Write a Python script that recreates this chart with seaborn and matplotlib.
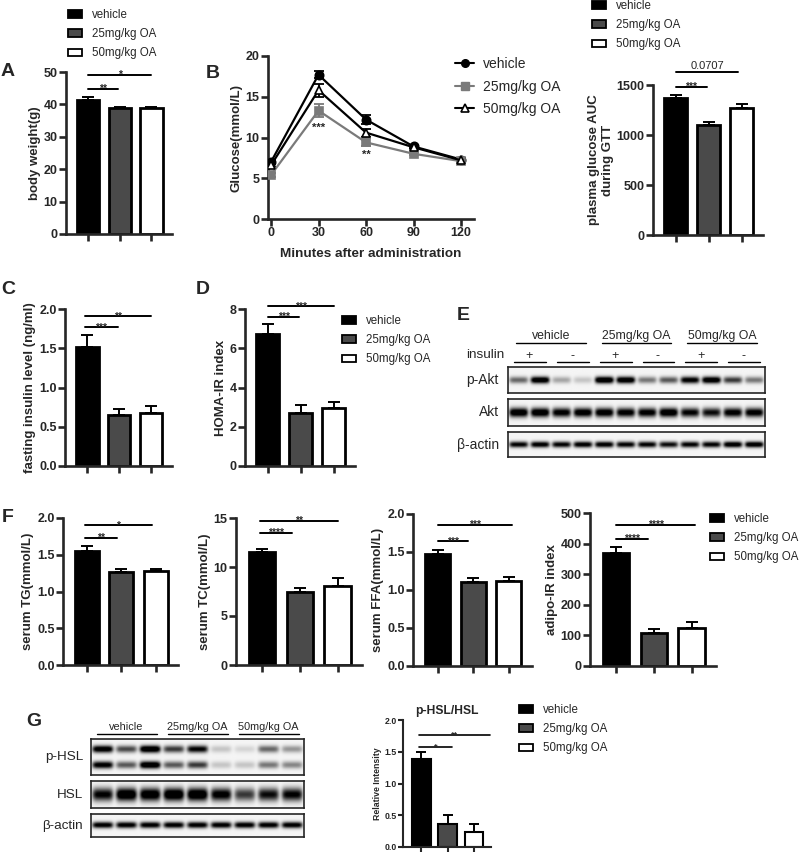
import numpy as np
import pandas as pd
import matplotlib
matplotlib.use('Agg')
import matplotlib.pyplot as plt
import seaborn as sns
from matplotlib.patches import Patch
from matplotlib.lines import Line2D

# ---- data ----
groups = ['vehicle', '25mg/kg OA', '50mg/kg OA']
bar_colors = ['black', '#4a4a4a', 'white']

bw_mean = [41.5, 38.8, 38.8]
bw_sem = [0.8, 0.4, 0.5]

minutes = [0, 30, 60, 90, 120]
gtt_vehicle = [7.0, 17.7, 12.2, 8.9, 7.3]
gtt_vehicle_sem = [0.2, 0.4, 0.5, 0.2, 0.2]
gtt_25 = [5.4, 13.3, 9.4, 8.0, 7.1]
gtt_25_sem = [0.3, 0.8, 0.5, 0.2, 0.2]
gtt_50 = [6.6, 15.8, 10.6, 8.8, 7.2]
gtt_50_sem = [0.2, 0.8, 0.5, 0.2, 0.2]

auc_mean = [1370, 1105, 1275]
auc_sem = [30, 30, 35]

insulin_mean = [1.52, 0.65, 0.68]
insulin_sem = [0.15, 0.08, 0.09]

homa_mean = [6.75, 2.72, 2.98]
homa_sem = [0.5, 0.4, 0.3]

tg_mean = [1.55, 1.26, 1.28]
tg_sem = [0.07, 0.05, 0.02]
tc_mean = [11.5, 7.5, 8.1]
tc_sem = [0.35, 0.4, 0.75]
ffa_mean = [1.47, 1.10, 1.12]
ffa_sem = [0.06, 0.06, 0.05]
adipo_mean = [368, 108, 124]
adipo_sem = [20, 14, 19]
phsl_mean = [1.38, 0.36, 0.24]
phsl_sem = [0.12, 0.14, 0.12]

# western blot band intensities (0 = blank, 1 = saturated)
insulin_signs = ['+', '-', '+', '-', '+', '-']
pakt_bands = [0.45, 0.95, 0.25, 0.15, 1.0, 0.95, 0.4, 0.5, 0.85, 0.95, 0.6, 0.4]
akt_bands = [0.95, 0.95, 0.85, 0.9, 0.9, 0.85, 0.85, 0.95, 0.8, 0.75, 0.85, 0.85]
actin_e_bands = [0.8, 0.85, 0.8, 0.85, 0.85, 0.8, 0.8, 0.75, 0.8, 0.8, 0.9, 0.9]
phsl_upper = [0.9, 0.55, 1.0, 0.6, 0.8, 0.15, 0.1, 0.45, 0.3]
phsl_lower = [0.85, 0.5, 1.0, 0.5, 0.6, 0.15, 0.15, 0.4, 0.35]
hsl_bands = [0.8, 1.0, 0.95, 1.0, 1.0, 0.85, 0.6, 0.75, 0.8]
actin_g_bands = [0.85, 0.85, 0.85, 0.85, 0.85, 0.85, 0.85, 0.85, 0.85]

# ---- style ----
sns.set_style('ticks')
plt.rcParams['font.family'] = ['Liberation Sans', 'DejaVu Sans']
plt.rcParams['font.weight'] = 'bold'
plt.rcParams['axes.labelweight'] = 'bold'

W, H = 800, 856
fig = plt.figure(figsize=(W / 100, H / 100), dpi=100)


def fx(x):
    return x / W


def fy(y):
    return 1 - y / H


def px_axes(left, top, right, bottom):
    return fig.add_axes([fx(left), fy(bottom), (right - left) / W, (bottom - top) / H])


def bar_panel(rect, means, sems, ymax, ystep, ylabel, brackets, dec=0, small=False):
    ax = px_axes(*rect)
    df = pd.DataFrame({'group': groups, 'value': means})
    lw = 1.5 if small else 2.0
    sns.barplot(data=df, x='group', y='value', hue='group',
                palette=dict(zip(groups, bar_colors)), width=0.7,
                edgecolor='black', linewidth=lw, legend=False, ax=ax)
    ax.errorbar(range(3), means, yerr=[np.zeros(3), sems], fmt='none',
                ecolor='black', elinewidth=1.4, capsize=3.5 if small else 4.5,
                capthick=1.4, zorder=3)
    ax.set_xlim(-0.7, 2.65)
    ax.set_ylim(0, ymax)
    ticks = np.arange(0, ymax + ystep / 2, ystep)
    ax.set_yticks(ticks)
    ax.set_yticklabels([f'{t:.{dec}f}' for t in ticks])
    ax.set_xticks(range(3))
    ax.set_xticklabels([])
    ax.set_xlabel('')
    sns.despine(ax=ax)
    sw = 1.5 if small else 1.9
    for s in ['left', 'bottom']:
        ax.spines[s].set_linewidth(sw)
    ax.tick_params(direction='out', length=3.5 if small else 5, width=sw,
                   labelsize=6.3 if small else 9, pad=1)
    ax.set_ylabel(ylabel, fontsize=6.3 if small else 9.5, labelpad=2)
    for x1, x2, y, txt in brackets:
        ax.plot([x1, x2], [y, y], color='black', lw=1.2 if small else 1.4, clip_on=False)
        if txt.startswith('*'):
            ax.annotate(txt, xy=((x1 + x2) / 2, y), xytext=(0, -1.6 if small else -2.4),
                        textcoords='offset points', ha='center', va='baseline',
                        fontsize=6.5 if small else 7.5, annotation_clip=False)
        else:
            ax.annotate(txt, xy=((x1 + x2) / 2, y), xytext=(0, 1),
                        textcoords='offset points', ha='center', va='bottom',
                        fontsize=8, fontweight='normal', annotation_clip=False)
    return ax


def bar_legend(x, y, fs=8.3):
    handles = [Patch(facecolor=c, edgecolor='black', linewidth=1.3) for c in bar_colors]
    fig.legend(handles, groups, loc='upper left', bbox_to_anchor=(fx(x), fy(y)),
               frameon=False, prop={'size': fs, 'weight': 'normal'},
               handlelength=1.2, handleheight=0.6, handletextpad=0.9,
               labelspacing=0.62, borderpad=0, borderaxespad=0)


def draw_blot(rect, rows):
    # rows: (band centre as axes fraction, intensities per lane, band half-height)
    ax = px_axes(*rect)
    n = len(rows[0][1])
    nx, ny = n * 40, 80
    xs = (np.arange(nx) + 0.5) / 40
    ys = (np.arange(ny) + 0.5) / ny
    dens = np.zeros((ny, nx))
    for yb, vals, sig in rows:
        for i, v in enumerate(vals):
            prof_x = np.exp(-((xs - (i + 0.5)) / 0.44) ** 6)
            prof_y = np.exp(-((ys - yb) / sig) ** 2)
            dens += v * np.outer(prof_y, prof_x)
    img = 1 - np.clip(dens * 1.25 + 0.04, 0, 1)
    ax.imshow(img, cmap='gray', vmin=0, vmax=1, extent=(0, n, 0, 1),
              aspect='auto', origin='lower', interpolation='bilinear')
    ax.set_xlim(0, n)
    ax.set_ylim(0, 1)
    ax.set_xticks([])
    ax.set_yticks([])
    for s in ax.spines.values():
        s.set_linewidth(1.2)
        s.set_visible(True)
    return ax


def panel_letter(x, y, s):
    fig.text(fx(x), fy(y), s, ha='center', va='center', fontsize=14, fontweight='bold')


# ---- A ----
bar_panel((66, 72, 172, 234), bw_mean, bw_sem, 50, 10, 'body weight(g)',
          [(0, 0.93, 44.8, '**'), (0, 2.0, 49.2, '*')])
bar_legend(68, 9)
panel_letter(8, 72, 'A')

# ---- B ----
axb = px_axes(268, 56, 474, 219)
series = [(gtt_vehicle, gtt_vehicle_sem, 'black', 'o', 'black'),
          (gtt_25, gtt_25_sem, '#7a7a7a', 's', '#7a7a7a'),
          (gtt_50, gtt_50_sem, 'black', '^', 'white')]
for (vals, sem, col, mk, mfc), name in zip(series, groups):
    sns.lineplot(x=minutes, y=vals, ax=axb, color=col, marker=mk, markersize=6,
                 markerfacecolor=mfc, markeredgecolor=col, markeredgewidth=1.2,
                 linewidth=1.6, label=name, legend=False, zorder=3)
    axb.errorbar(minutes, vals, yerr=sem, fmt='none', ecolor=col, elinewidth=1.3,
                 capsize=3.5, capthick=1.3, zorder=2)
axb.set_xlim(-1.9, 128.2)
axb.set_ylim(0, 20)
axb.set_xticks(minutes)
axb.set_yticks([0, 5, 10, 15, 20])
sns.despine(ax=axb)
for s in ['left', 'bottom']:
    axb.spines[s].set_linewidth(1.9)
axb.tick_params(direction='out', length=5, width=1.9, labelsize=9, pad=1)
axb.set_xlabel('Minutes after administration', fontsize=9.7, labelpad=6)
axb.set_ylabel('Glucose(mmol/L)', fontsize=9.5, labelpad=2)
axb.text(30, 11.2, '***', ha='center', va='center', fontsize=8)
axb.text(60, 7.9, '**', ha='center', va='center', fontsize=8)
line_handles = [Line2D([], [], color='black', marker='o', ms=5.5, lw=1.5),
                Line2D([], [], color='#7a7a7a', marker='s', ms=5.5, lw=1.5),
                Line2D([], [], color='black', marker='^', ms=6, lw=1.5,
                       markerfacecolor='white', markeredgewidth=1.2)]
fig.legend(line_handles, groups, loc='upper left', bbox_to_anchor=(fx(455), fy(57)),
           frameon=False, prop={'size': 10, 'weight': 'normal'}, handlelength=1.4,
           handletextpad=0.6, labelspacing=0.62, borderpad=0, borderaxespad=0)
panel_letter(213, 73, 'B')

# ---- AUC ----
bar_panel((653, 85, 763, 235), auc_mean, auc_sem, 1500, 500,
          'plasma glucose AUC\nduring GTT',
          [(0, 0.94, 1480, '***'), (0, 1.9, 1630, '0.0707')])
bar_legend(592, 0)

# ---- C, D ----
bar_panel((65, 309, 172, 466), insulin_mean, insulin_sem, 2.0, 0.5,
          'fasting insulin level (ng/ml)',
          [(-0.08, 0.95, 1.77, '***'), (-0.08, 2.0, 1.91, '**')], dec=1)
panel_letter(8, 290, 'C')
bar_panel((245, 309, 355, 466), homa_mean, homa_sem, 8, 2, 'HOMA-IR index',
          [(0, 0.95, 7.6, '***'), (0, 2.0, 8.15, '***')])
bar_legend(342, 315)
panel_letter(203, 290, 'D')

# ---- E (western blot) ----
panel_letter(463, 315, 'E')
e_left, e_right = 508, 765
draw_blot((e_left, 367, e_right, 393), [(0.5, pakt_bands, 0.13)])
draw_blot((e_left, 399, e_right, 426), [(0.5, akt_bands, 0.17)])
draw_blot((e_left, 432, e_right, 457), [(0.5, actin_e_bands, 0.12)])
lane = (e_right - e_left) / 12
for g, name in enumerate(groups):
    x0 = e_left + 4 * g * lane
    x1 = x0 + 4 * lane
    fig.text(fx((x0 + x1) / 2), fy(336), name, ha='center', va='center',
             fontsize=8.8, fontweight='normal')
    fig.add_artist(Line2D([fx(x0 + 8), fx(x1 - 8)], [fy(343), fy(343)], color='black', lw=1))
for k, sign in enumerate(insulin_signs):
    x0 = e_left + 2 * k * lane
    x1 = x0 + 2 * lane
    fig.text(fx((x0 + x1) / 2), fy(356), sign, ha='center', va='center',
             fontsize=9, fontweight='normal')
    fig.add_artist(Line2D([fx(x0 + 6), fx(x1 - 5)], [fy(362), fy(362)], color='black', lw=1))
fig.text(fx(504), fy(355), 'insulin', ha='right', va='center', fontsize=9.7, fontweight='normal')
for name, yc in [('p-Akt', 380), ('Akt', 412), ('β-actin', 445)]:
    fig.text(fx(499), fy(yc), name, ha='right', va='center', fontsize=10, fontweight='normal')

# ---- F ----
panel_letter(8, 517, 'F')
bar_panel((63, 518, 178, 665), tg_mean, tg_sem, 2.0, 0.5, 'serum TG(mmol/L)',
          [(-0.07, 0.86, 1.73, '**'), (-0.07, 1.9, 1.90, '*')], dec=1)
bar_panel((236, 518, 362, 665), tc_mean, tc_sem, 15, 5, 'serum TC(mmol/L)',
          [(-0.06, 0.8, 13.5, '****'), (-0.06, 2.0, 14.7, '**')])
bar_panel((413, 514, 532, 666), ffa_mean, ffa_sem, 2.0, 0.5, 'serum FFA(mmol/L)',
          [(0, 0.86, 1.64, '***'), (0, 2.1, 1.86, '***')], dec=1)
bar_panel((590, 513, 716, 666), adipo_mean, adipo_sem, 500, 100, 'adipo-IR index',
          [(0, 0.84, 415, '****'), (0, 2.1, 461, '****')])
bar_legend(710, 513)

# ---- G ----
panel_letter(34, 721, 'G')
g_left, g_right = 91, 304
draw_blot((g_left, 739, g_right, 775), [(0.72, phsl_upper, 0.1), (0.28, phsl_lower, 0.1)])
draw_blot((g_left, 781, g_right, 808), [(0.5, hsl_bands, 0.24)])
draw_blot((g_left, 814, g_right, 837), [(0.5, actin_g_bands, 0.13)])
glane = (g_right - g_left) / 9
for g, name in enumerate(groups):
    x0 = g_left + 3 * g * glane
    x1 = x0 + 3 * glane
    fig.text(fx((x0 + x1) / 2), fy(727), name, ha='center', va='center',
             fontsize=7.8, fontweight='normal')
    fig.add_artist(Line2D([fx(x0 + 6), fx(x1 - 5)], [fy(734), fy(734)], color='black', lw=1))
for name, yc in [('p-HSL', 757), ('HSL', 795), ('β-actin', 826)]:
    fig.text(fx(83), fy(yc), name, ha='right', va='center', fontsize=9.7, fontweight='normal')

axg = bar_panel((403, 720, 491, 847), phsl_mean, phsl_sem, 2.0, 0.5, 'Relative Intensity',
                [(-0.08, 1.16, 1.57, '*'), (-0.08, 2.6, 1.76, '**')], dec=1, small=True)
axg.set_title('p-HSL/HSL', fontsize=8.7, fontweight='bold', pad=4)
bar_legend(519, 704)

fig.savefig('out.png', dpi=100)
